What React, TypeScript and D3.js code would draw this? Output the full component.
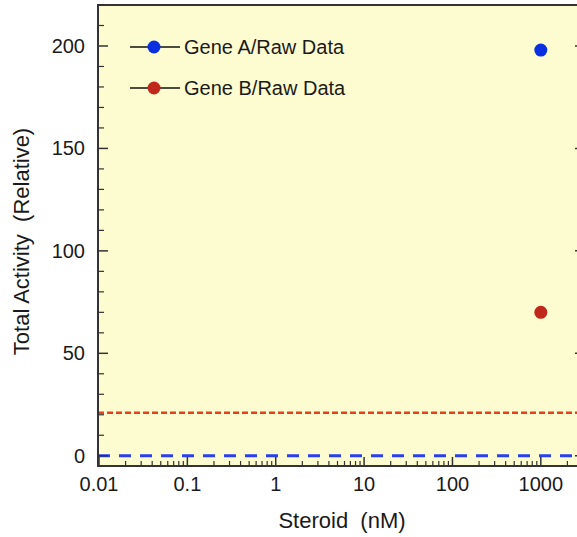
import React from "react";
import * as d3 from "d3";

const xTickValues = [0.01, 0.1, 1, 10, 100, 1000];
const xTickLabels = ["0.01", "0.1", "1", "10", "100", "1000"];
const yTickValues = [0, 50, 100, 150, 200];
const seriesNames = ["Gene A/Raw Data", "Gene B/Raw Data"];
const seriesColors = ["#0a2fe0", "#c0281c"];
const pointX = [1000, 1000];
const pointY = [198, 70];
const baselineValues = [0, 21];
const baselineColors = ["#2a3ff0", "#e8401a"];

const W = 577;
const H = 537;
const left = 98;
const top = 5;
const right = 585;
const bottom = 466;

export default function App() {
  const x = d3.scaleLog().domain([0.01, 3162]).range([left + 1, right]);
  const y = d3.scaleLinear().domain([-5, 220]).range([bottom, top]);

  const minorX: number[] = [];
  for (let e = -2; e <= 3; e++) {
    for (let m = 2; m <= 9; m++) {
      const v = m * Math.pow(10, e);
      if (v < 3162) minorX.push(v);
    }
  }
  const minorY = d3.range(0, 221, 10).filter((v) => v % 50 !== 0);
  const font = "'Liberation Sans', Arial, Helvetica, sans-serif";
  const axisColor = "#333";
  const textColor = "#1a1a1a";

  return (
    <svg
      width={W}
      height={H}
      style={{ position: "absolute", left: 0, top: 0 }}
      fontFamily={font}
    >
      <rect x={0} y={0} width={W} height={H} fill="#fff" />
      <rect x={left} y={top} width={right - left} height={bottom - top} fill="#fdfcd0" />

      {/* baselines */}
      <line
        x1={left}
        x2={W}
        y1={y(baselineValues[0])}
        y2={y(baselineValues[0])}
        stroke={baselineColors[0]}
        strokeWidth={3}
        strokeDasharray="12,9"
      />
      <line
        x1={left}
        x2={W}
        y1={y(baselineValues[1])}
        y2={y(baselineValues[1])}
        stroke={baselineColors[1]}
        strokeWidth={2.5}
        strokeDasharray="6,3"
      />

      {/* axes frame */}
      <line x1={left} x2={left} y1={top} y2={bottom} stroke={axisColor} strokeWidth={2} />
      <line x1={left - 1} x2={right} y1={bottom} y2={bottom} stroke={axisColor} strokeWidth={2} />
      <line x1={left - 1} x2={right} y1={top} y2={top} stroke={axisColor} strokeWidth={2} />
      <line x1={right} x2={right} y1={top} y2={bottom} stroke={axisColor} strokeWidth={2} />

      {/* y ticks */}
      {yTickValues.map((v) => (
        <g key={"y" + v}>
          <line x1={left} x2={left + 10} y1={y(v)} y2={y(v)} stroke={axisColor} strokeWidth={1.5} />
          <line x1={right} x2={right - 10} y1={y(v)} y2={y(v)} stroke={axisColor} strokeWidth={1.5} />
          <text x={85} y={y(v)} dy="0.35em" textAnchor="end" fontSize={20} fill={textColor}>
            {v}
          </text>
        </g>
      ))}
      {minorY.map((v) => (
        <g key={"my" + v}>
          <line x1={left} x2={left + 6} y1={y(v)} y2={y(v)} stroke={axisColor} strokeWidth={1.2} />
          <line x1={right} x2={right - 6} y1={y(v)} y2={y(v)} stroke={axisColor} strokeWidth={1.2} />
        </g>
      ))}

      {/* x ticks */}
      {xTickValues.map((v, i) => (
        <g key={"x" + v}>
          <line x1={x(v)} x2={x(v)} y1={bottom} y2={bottom - 9} stroke={axisColor} strokeWidth={1.5} />
          <text x={x(v)} y={491} textAnchor="middle" fontSize={20} fill={textColor}>
            {xTickLabels[i]}
          </text>
        </g>
      ))}
      {minorX.map((v) => (
        <line
          key={"mx" + v}
          x1={x(v)}
          x2={x(v)}
          y1={bottom}
          y2={bottom - 5}
          stroke={axisColor}
          strokeWidth={1.2}
        />
      ))}

      {/* axis titles */}
      <text x={342} y={528} textAnchor="middle" fontSize={22} fill={textColor}>
        {"Steroid\u00a0 (nM)"}
      </text>
      <text
        transform={`translate(29, 241.5) rotate(-90)`}
        textAnchor="middle"
        fontSize={22}
        fill={textColor}
      >
        {"Total Activity\u00a0 (Relative)"}
      </text>

      {/* points */}
      {pointX.map((px, i) => (
        <circle key={"p" + i} cx={x(px)} cy={y(pointY[i])} r={6.5} fill={seriesColors[i]} />
      ))}

      {/* legend */}
      {seriesNames.map((name, i) => {
        const ly = 47 + i * 41;
        return (
          <g key={"lg" + i}>
            <line x1={130} x2={180} y1={ly} y2={ly} stroke="#111" strokeWidth={1.5} />
            <circle cx={154} cy={ly} r={6.5} fill={seriesColors[i]} />
            <text x={184} y={ly} dy="0.35em" fontSize={20} fill={textColor}>
              {name}
            </text>
          </g>
        );
      })}
    </svg>
  );
}
